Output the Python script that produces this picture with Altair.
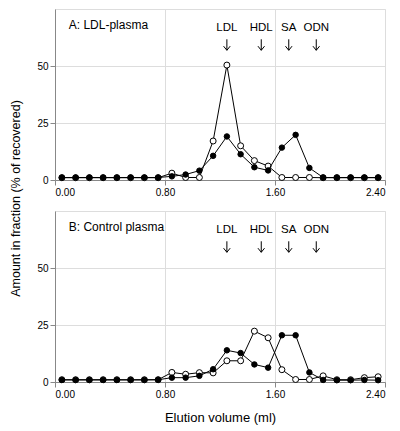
import altair as alt
import pandas as pd

# Elution volume (ml) of each fraction
volume = [0.05, 0.15, 0.25, 0.35, 0.45, 0.55, 0.65, 0.75, 0.85, 0.95, 1.05, 1.15,
          1.25, 1.35, 1.45, 1.55, 1.65, 1.75, 1.85, 1.95, 2.05, 2.15, 2.25, 2.35]

# Panel A: LDL-plasma
a_open = [1.0, 1.0, 1.0, 1.0, 1.0, 1.0, 1.0, 1.0, 3.0, 1.1, 1.1, 17.1,
          50.4, 15.0, 8.5, 6.1, 1.1, 1.1, 1.1, 1.0, 1.0, 1.0, 1.0, 1.0]
a_filled = [1.1, 1.1, 1.1, 1.1, 1.1, 1.1, 1.1, 1.1, 1.6, 2.4, 4.1, 10.6,
            19.1, 11.3, 5.6, 4.2, 14.2, 19.8, 5.3, 1.1, 1.1, 1.1, 1.1, 1.1]

# Panel B: Control plasma
b_open = [1.0, 1.0, 1.0, 1.0, 1.0, 1.0, 1.0, 1.0, 4.2, 3.4, 4.1, 4.0,
          9.3, 9.3, 22.3, 19.4, 5.4, 1.1, 1.1, 2.7, 1.0, 1.0, 1.9, 2.3]
b_filled = [0.9, 0.9, 0.9, 0.9, 0.9, 0.9, 0.9, 1.0, 1.9, 1.9, 2.7, 5.6,
            13.9, 12.7, 7.7, 6.3, 20.5, 20.5, 4.2, 0.9, 0.8, 0.8, 0.9, 0.8]

# Marker annotations
marker_names = ["LDL", "HDL", "SA", "ODN"]
marker_pos = [1.25, 1.50, 1.70, 1.90]
marker_label_y = 66.7
marker_arrow_y = 59.3

panel_titles = ["A: LDL-plasma", "B: Control plasma"]
x_ticks = [0.0, 0.8, 1.6, 2.4]
y_ticks = [0, 25, 50]

FONT = "Liberation Sans"
W, H = 330, 171
ARROW = "M0,-1L0,1M-0.6,0.25L0,1L0.6,0.25"

xscale = alt.Scale(domain=[0, 2.4], nice=False, zero=False)
yscale = alt.Scale(domain=[0, 75], nice=False)

ann = pd.DataFrame({"name": marker_names, "x": marker_pos,
                    "ly": [marker_label_y] * 4, "ay": [marker_arrow_y] * 4})


def panel(open_vals, filled_vals, title, bottom):
    df_o = pd.DataFrame({"x": volume, "y": open_vals})
    df_f = pd.DataFrame({"x": volume, "y": filled_vals})
    xaxis = alt.Axis(values=x_ticks, format=".2f", title="Elution volume (ml)" if bottom else None,
                     titleFontSize=13, titleFontWeight="normal", titlePadding=12)
    if bottom:
        yaxis = alt.Axis(values=y_ticks, title=None)
    else:
        yaxis = alt.Axis(values=y_ticks, title="Amount in fraction (% of recovered)",
                         titleFontSize=12.5, titleFontWeight="normal",
                         titleX=-36, titleY=189, titleBaseline="alphabetic", titleAngle=270)
    X = alt.X("x:Q", scale=xscale, axis=xaxis)
    Y = alt.Y("y:Q", scale=yscale, axis=yaxis)
    line_o = alt.Chart(df_o).mark_line(color="black", strokeWidth=1).encode(x=X, y=Y)
    pts_o = alt.Chart(df_o).mark_point(shape="circle", filled=True, fill="white", stroke="black",
                                       strokeWidth=1, size=36, opacity=1).encode(x="x:Q", y="y:Q")
    line_f = alt.Chart(df_f).mark_line(color="black", strokeWidth=1).encode(x="x:Q", y="y:Q")
    pts_f = alt.Chart(df_f).mark_point(shape="circle", filled=True, fill="black", stroke="black",
                                       strokeWidth=1, size=30, opacity=1).encode(x="x:Q", y="y:Q")
    labels = alt.Chart(ann).mark_text(font=FONT, fontSize=11.5, color="black", baseline="middle").encode(
        x="x:Q", y="ly:Q", text="name:N")
    arrows = alt.Chart(ann).mark_point(shape=ARROW, filled=False, color="black", strokeWidth=1,
                                       size=121, opacity=1).encode(x="x:Q", y="ay:Q")
    ttl = alt.Chart(pd.DataFrame({"t": [title], "x": [0.10], "y": [67.8]})).mark_text(
        font=FONT, fontSize=12, color="black", align="left", baseline="middle").encode(
        x="x:Q", y="y:Q", text="t:N")
    return alt.layer(line_o, pts_o, line_f, pts_f, labels, arrows, ttl).properties(width=W, height=H)


chart = alt.vconcat(
    panel(a_open, a_filled, panel_titles[0], False),
    panel(b_open, b_filled, panel_titles[1], True),
    spacing=31, bounds="flush",
).properties(
    padding={"top": 0, "left": 0, "right": 5, "bottom": 0}
).configure_view(
    stroke="black", strokeWidth=1
).configure_axis(
    grid=False, domainColor="black", tickColor="black", labelColor="black", titleColor="black",
    labelFont=FONT, titleFont=FONT, labelFontSize=12, tickSize={"expr": "-5"}, labelPadding=9,
    labelFlush=False
).configure(background="white")

chart.save("out.html", embed_options={"renderer": "svg", "actions": False})
